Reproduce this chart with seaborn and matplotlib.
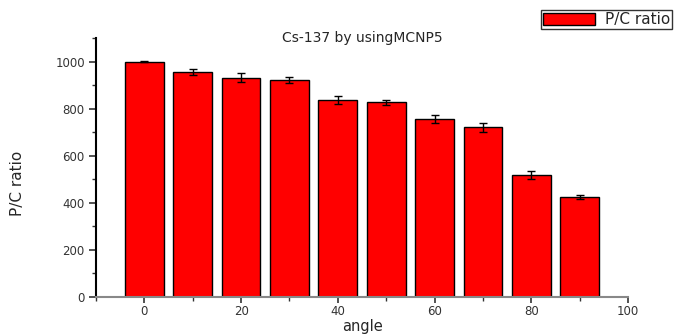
import matplotlib
matplotlib.use("Agg")
import matplotlib.pyplot as plt
import seaborn as sns
import pandas as pd
from matplotlib.patches import Patch
from matplotlib.ticker import MultipleLocator

# Data
angle = [0, 10, 20, 30, 40, 50, 60, 70, 80, 90]
pc_ratio = [1000, 954, 931, 922, 837, 827, 757, 721, 518, 424]
pc_err = [3, 13, 20, 14, 17, 11, 16, 20, 16, 8]

df = pd.DataFrame({'angle': angle, 'pc': pc_ratio})

sns.set_style("ticks")
plt.rcParams['font.family'] = ['DejaVu Sans']

fig = plt.figure(figsize=(6.75, 3.35), dpi=100)
ax = fig.add_axes([0.1422, 0.1134, 0.7882, 0.7732])

sns.barplot(data=df, x='angle', y='pc', native_scale=True, width=0.8,
            color='#ff0000', edgecolor='black', linewidth=1.0,
            saturation=1, errorbar=None, ax=ax)
ax.errorbar(df['angle'], df['pc'], yerr=pc_err, fmt='none',
            ecolor='black', elinewidth=1.0, capsize=3, capthick=1.0)

ax.set_xlim(-10, 100)
ax.set_ylim(0, 1100)
ax.xaxis.set_major_locator(MultipleLocator(20))
ax.xaxis.set_minor_locator(MultipleLocator(10))
ax.yaxis.set_major_locator(MultipleLocator(200))
ax.yaxis.set_minor_locator(MultipleLocator(100))
ax.tick_params(which='major', direction='out', length=5, width=1.2,
               labelsize=8.5, colors='#333333', pad=3)
ax.tick_params(axis='x', which='major', length=4, pad=2)
ax.tick_params(which='minor', direction='out', length=3, width=1.0, colors='#333333')

for s in ['top', 'right']:
    ax.spines[s].set_visible(False)
ax.spines['left'].set_linewidth(1.5)
ax.spines['left'].set_color('black')
ax.spines['bottom'].set_linewidth(1.5)
ax.spines['bottom'].set_color('#888888')

ax.set_xlabel('angle', fontsize=10.5, va='center')
ax.xaxis.set_label_coords(0.5, -0.115)
ax.set_ylabel('P/C ratio', fontsize=11, va='center')
ax.yaxis.set_label_coords(-0.147, 0.44)
ax.set_title('Cs-137 by usingMCNP5', fontsize=10, pad=0, y=0.985)

fig.legend(handles=[Patch(facecolor='#ff0000', edgecolor='black', label='P/C ratio')],
           loc='upper right', bbox_to_anchor=(0.998, 0.975), fontsize=11,
           frameon=True, fancybox=False, edgecolor='black', handlelength=3.4,
           handleheight=0.9, borderpad=0.15, handletextpad=0.6,
           borderaxespad=0.1)

fig.savefig('out.png', dpi=100)
